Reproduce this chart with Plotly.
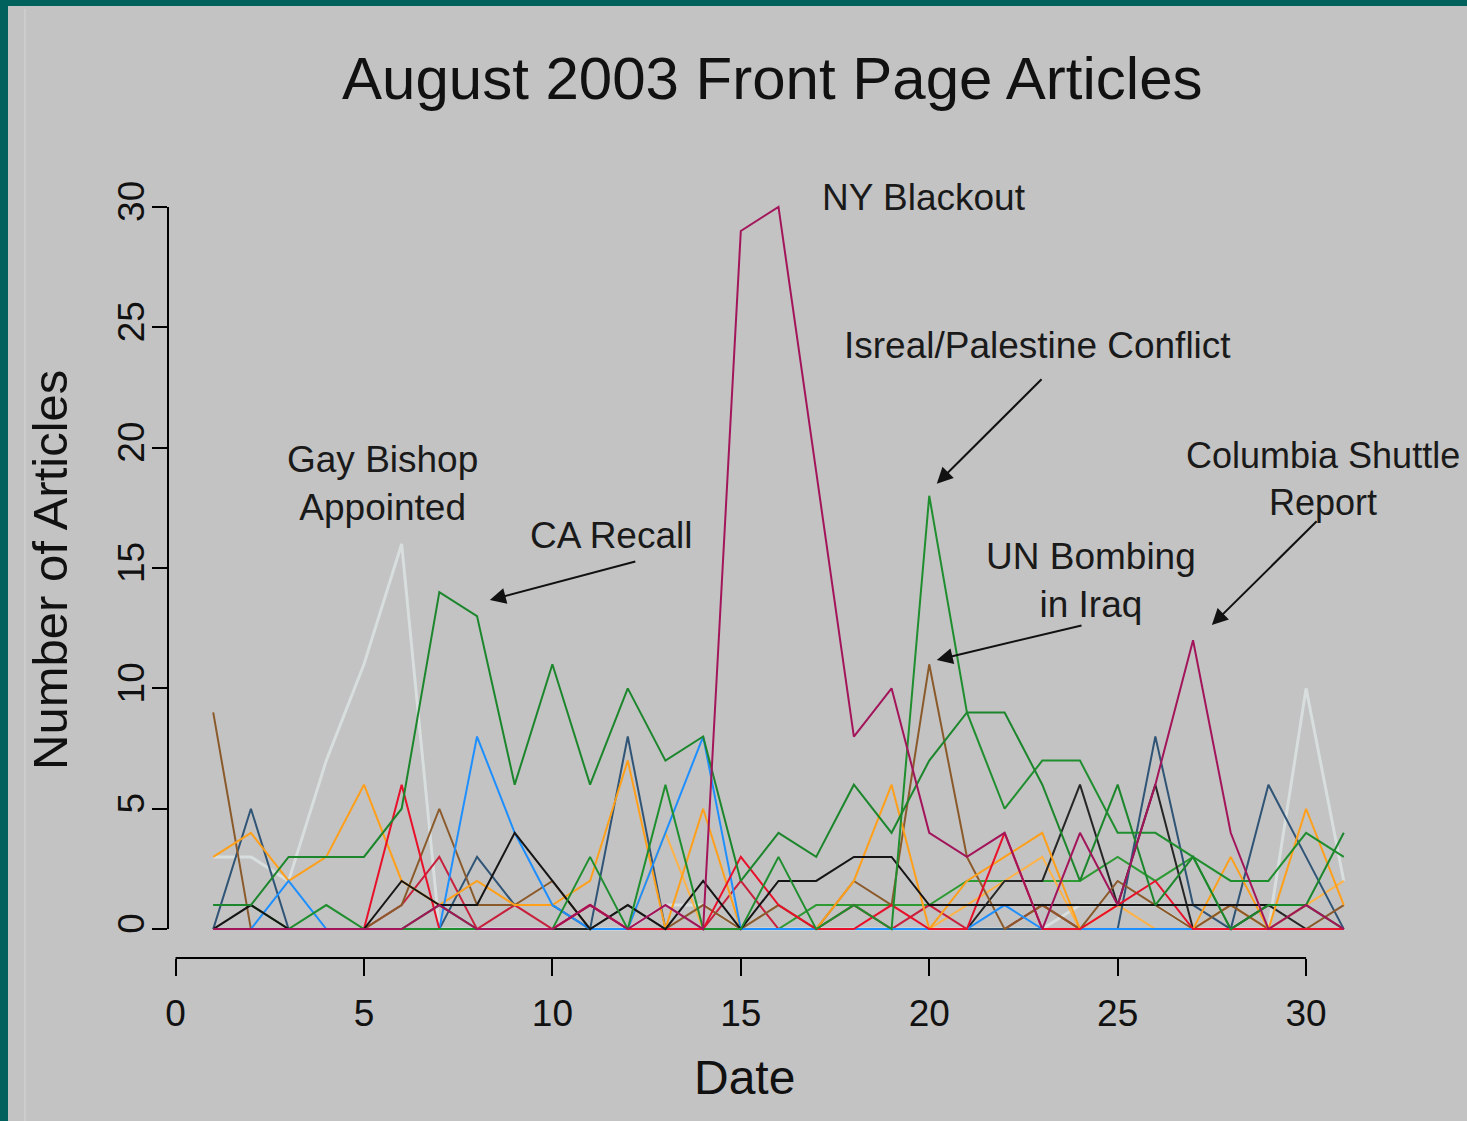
import plotly.graph_objects as go

days = list(range(1, 32))

# Number of front page articles per topic per day
ny_blackout   = [0,0,0,0,0,0,1,0,0,0,1,0,1,0,29,30,19,8,10,4,3,4,0,4,1,6,12,4,0,1,0]
ca_recall     = [1,1,3,3,3,5,14,13,6,11,6,10,7,8,2,4,3,6,4,7,9,9,6,2,6,1,3,0,1,1,4]
israel        = [0,0,0,1,0,0,0,0,0,0,3,0,6,0,0,3,0,1,0,18,9,5,7,7,4,4,3,2,2,4,3]
green_misc    = [1,1,0,0,0,0,1,0,0,0,0,0,0,0,0,0,1,1,1,1,2,2,2,2,3,2,3,0,0,1,0]
gay_bishop    = [3,3,2,7,11,16,0,0,0,0,0,0,1,1,0,0,0,0,0,0,0,0,0,1,1,1,0,0,0,10,2]
brown_topic   = [9,0,0,0,0,1,5,1,1,2,0,0,0,1,0,1,0,2,1,11,3,0,1,0,2,1,0,1,0,0,1]
orange_topic  = [3,4,2,3,6,2,1,2,1,1,2,7,0,5,0,0,0,2,6,0,2,3,4,0,0,0,0,3,0,5,1]
orange2_topic = [0,0,0,0,0,0,0,0,0,0,0,0,4,0,0,0,0,0,0,0,1,2,3,0,1,0,0,1,0,1,2]
blue_topic    = [0,0,2,0,0,0,0,8,4,1,0,0,4,8,0,0,0,0,0,0,0,1,0,0,0,0,0,0,0,0,0]
red_topic     = [0,0,0,0,0,6,0,0,0,0,1,0,0,0,3,1,0,0,1,0,0,4,0,0,1,2,0,0,0,0,0]
red2_topic    = [0,0,0,0,0,1,3,0,1,0,1,0,0,0,2,0,0,1,0,1,0,0,1,0,0,0,0,0,0,0,0]
black_topic   = [0,1,0,0,0,2,1,1,4,2,0,1,0,2,0,2,2,3,3,1,1,1,1,1,1,1,1,1,1,None,None]
black2_topic  = [0,0,0,0,0,0,0,0,0,0,0,0,0,0,0,0,0,0,0,0,0,2,2,6,1,6,0,0,1,0,0]
slate_topic   = [0,5,0,0,0,0,0,3,1,1,0,8,0,0,0,0,0,0,0,0,0,0,0,0,0,8,1,0,6,3,0]

series = [
    (gay_bishop,    "rgba(236,250,248,0.5)", 3),
    (green_misc,    "#2E9A34", 2),
    (orange2_topic, "#FFB347", 2),
    (red2_topic,    "#C8203C", 2),
    (black2_topic,  "#262626", 2),
    (slate_topic,   "#2F5476", 2),
    (brown_topic,   "#8B5A2B", 2),
    (orange_topic,  "#FF9F1A", 2),
    (blue_topic,    "#1E8FFF", 2),
    (red_topic,     "#E8102A", 2),
    (black_topic,   "#151515", 2),
    (israel,        "#1F8E2E", 2),
    (ca_recall,     "#1C862C", 2),
    (ny_blackout,   "#A3155A", 2),
]

x_ticks = [0, 5, 10, 15, 20, 25, 30]
y_ticks = [0, 5, 10, 15, 20, 25, 30]

BG = "#C3C3C3"
TEAL = "#00615D"
FONT = "Liberation Sans, Arial, sans-serif"

fig = go.Figure()
for vals, col, w in series:
    fig.add_trace(go.Scatter(x=days, y=vals, mode="lines",
                             line=dict(color=col, width=w),
                             showlegend=False, hoverinfo="skip"))

L, R, T, B = 168, 78, 178, 163
W, H = 1467, 1121
pw, ph = W - L - R, H - T - B
def px(xp): return (xp - L) / pw
def py(yp): return (H - B - yp) / ph

shapes = [
    dict(type="rect", xref="paper", yref="paper", x0=px(8), x1=px(W + 5), y0=py(H + 5), y1=py(6),
         fillcolor=BG, line=dict(width=0), layer="below"),
    dict(type="line", xref="paper", yref="paper", x0=px(25), x1=px(25), y0=py(H + 5), y1=py(9),
         line=dict(color="#D6D6D6", width=1), layer="below"),
    dict(type="line", xref="x", yref="paper", x0=x_ticks[0], x1=x_ticks[-1], y0=0, y1=0,
         line=dict(color="black", width=2)),
    dict(type="line", xref="paper", yref="y", x0=0, x1=0, y0=y_ticks[0], y1=y_ticks[-1],
         line=dict(color="black", width=2)),
]

ann_font = dict(family=FONT, size=37, color="#1a1a1a")
annotations = [
    dict(text="August 2003 Front Page Articles", xref="paper", yref="paper",
         x=px(772), y=py(78), showarrow=False, font=dict(family=FONT, size=60, color="#111"),
         xanchor="center", yanchor="middle"),
    dict(text="Date", xref="paper", yref="paper", x=px(744), y=py(1077), showarrow=False,
         font=dict(family=FONT, size=48, color="#111"), xanchor="center", yanchor="middle"),
    dict(text="Number of Articles", xref="paper", yref="paper", x=px(50), y=py(570),
         showarrow=False, textangle=-90,
         font=dict(family=FONT, size=49, color="#111"), xanchor="center", yanchor="middle"),
    dict(text="NY Blackout", x=19.86, y=30.4, showarrow=False, font=ann_font),
    dict(text="Isreal/Palestine Conflict", x=22.86, y=24.25, showarrow=False, font=ann_font),
    dict(text="Gay Bishop<br>Appointed", x=5.5, y=18.5, showarrow=False, font=ann_font),
    dict(text="CA Recall", x=11.55, y=16.35, showarrow=False, font=ann_font),
    dict(text="UN Bombing<br>in Iraq", x=24.3, y=14.5, showarrow=False, font=ann_font),
    dict(text="Columbia Shuttle<br>Report", x=30.45, y=18.7, showarrow=False,
         font=dict(family=FONT, size=36, color="#1a1a1a")),
]
arrows = [
    (20.2, 18.5, 23.02, 22.9),
    (8.34, 13.67, 12.24, 15.29),
    (20.2, 11.18, 24.08, 12.63),
    (27.5, 12.63, 30.32, 17.0),
]
for xt, yt, xa, ya in arrows:
    annotations.append(dict(text="", x=xt, y=yt, ax=xa, ay=ya, axref="x", ayref="y",
                            showarrow=True, arrowhead=2, arrowsize=1.6, arrowwidth=2,
                            arrowcolor="#111"))

fig.update_layout(
    width=W, height=H,
    margin=dict(l=L, r=R, t=T, b=B, pad=0),
    paper_bgcolor=TEAL, plot_bgcolor=BG,
    shapes=shapes, annotations=annotations,
    font=dict(family=FONT, color="#111"),
    xaxis=dict(range=[-0.2, 32.2], tickvals=x_ticks, ticktext=[str(v) for v in x_ticks],
               ticks="outside", ticklen=17, tickwidth=2, tickcolor="black",
               ticklabelstandoff=6,
               showgrid=False, zeroline=False, showline=False,
               tickfont=dict(family=FONT, size=37, color="#111")),
    yaxis=dict(range=[-1.2, 31.2], tickvals=y_ticks, ticktext=[str(v) for v in y_ticks],
               ticks="outside", ticklen=15, tickwidth=2, tickcolor="black", tickangle=-90,
               ticklabelstandoff=-7,
               showgrid=False, zeroline=False, showline=False,
               tickfont=dict(family=FONT, size=37, color="#111")),
)

fig.write_html(
    "out.html",
    config={"displayModeBar": False},
    post_script="document.body.style.margin='0';document.body.style.padding='0';"
                "document.body.style.overflow='hidden';document.body.style.background='" + TEAL + "';",
)
